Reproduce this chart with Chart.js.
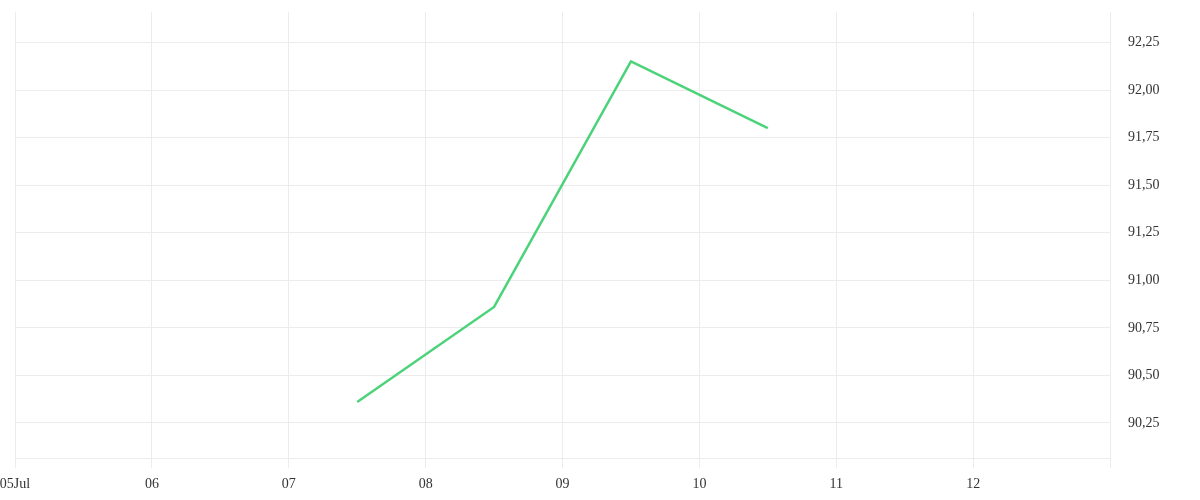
<!DOCTYPE html>
<html>
<head>
<meta charset="utf-8">
<script src="https://cdn.jsdelivr.net/npm/chart.js@4"></script>
<style>
  html, body { margin: 0; padding: 0; background: #fff; }
  #wrap { width: 1200px; height: 500px; }
</style>
</head>
<body>
<div id="wrap"><canvas id="priceChart"></canvas></div>
<script>
// Dias del eje x (desplazamiento en dias desde el 05 Jul)
const dayLabels = ["05Jul", "06", "07", "08", "09", "10", "11", "12", ""];
// Puntos de la serie: posicion en dias y valor
const pointDays = [2.5, 3.5, 4.5, 5.5];
const pointValues = [90.36, 90.86, 92.15, 91.80];
// Marcas del eje y
const yTicks = [90.25, 90.5, 90.75, 91.0, 91.25, 91.5, 91.75, 92.0, 92.25];

const gridColor = "#ececec";
const fontSpec = { family: "'Liberation Serif', serif", size: 14 };

const ctx = document.getElementById("priceChart").getContext("2d");
new Chart(ctx, {
  type: "line",
  data: {
    datasets: [
      {
        data: pointDays.map((d, i) => ({ x: d, y: pointValues[i] })),
        borderColor: "#4cd37a",
        borderWidth: 2.5,
        pointRadius: 0,
        tension: 0,
        fill: false,
      },
    ],
  },
  options: {
    responsive: true,
    maintainAspectRatio: false,
    animation: false,
    layout: { padding: { top: 0, left: 0, right: 0, bottom: 0 } },
    plugins: { legend: { display: false }, tooltip: { enabled: false } },
    scales: {
      x: {
        type: "linear",
        min: 0,
        max: dayLabels.length - 1,
        afterBuildTicks: (axis) => {
          axis.ticks = dayLabels.map((_, i) => ({ value: i }));
        },
        afterFit: (axis) => {
          axis.height = 42;
          axis.paddingLeft = 15;
        },
        grid: { color: gridColor, tickLength: 10 },
        border: { color: gridColor },
        ticks: {
          autoSkip: false,
          maxRotation: 0,
          padding: 8,
          color: "#333",
          font: fontSpec,
          callback: (v) => dayLabels[v] ?? "",
        },
      },
      y: {
        position: "right",
        min: 90.066,
        max: 92.41,
        afterBuildTicks: (axis) => {
          axis.ticks = yTicks.map((v) => ({ value: v }));
        },
        afterFit: (axis) => {
          axis.width = 90;
          axis.paddingTop = 12;
        },
        grid: { color: gridColor, drawTicks: false },
        border: { display: false },
        ticks: {
          padding: 18,
          color: "#333",
          font: fontSpec,
          callback: (v) => v.toFixed(2).replace(".", ","),
        },
      },
    },
  },
});
</script>
</body>
</html>
